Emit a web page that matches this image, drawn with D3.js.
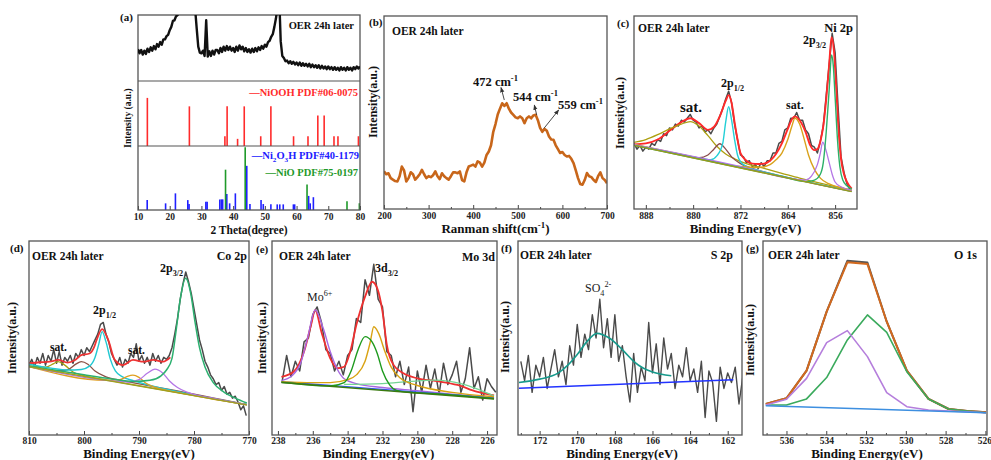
<!DOCTYPE html>
<html>
<head>
<meta charset="utf-8">
<script src="https://cdn.jsdelivr.net/npm/d3@7"></script>
<style>body{margin:0;background:#fff}svg{display:block}</style>
</head>
<body>
<script>
var FONT = "'Liberation Serif','Times New Roman',serif";

// ---------- (a) XRD, 2-theta from 10 step 0.5, % of top strip ----------
var xrdStart = 10, xrdStep = 0.5;
var xrdCounts = [
  48,42,47,40,46,41,49,44,51,46,
  53,48,56,52,59,55,63,63,68,70,
  77,82,91,92,98,100,106,115,125,130,
  130,130,130,130,130,125,110,80,52,43,
  42,46,38,92,37,45,38,46,40,47,
  47,42,50,44,52,46,53,47,52,46,
  50,44,52,46,54,48,52,45,50,44,
  48,43,49,44,50,45,51,47,53,49,
  55,52,59,61,67,71,82,95,112,130,
  60,38,35,30,31,27,30,26,29,25,
  28,24,28,23,27,23,26,22,26,21,
  25,21,24,20,24,19,23,19,22,18,
  22,18,21,17,21,17,20,16,21,17,
  20,16,21,17,20,16,21,18,22,19,
  22
];
// reference sticks [2theta, % of strip]
var nioohSticks = [[12.95,74],[26.2,61],[37.4,15],[38.1,61],[41.4,11],[43.5,61],[48.7,15],[51.9,61],
  [59.05,15],[63.6,15],[66.7,47],[68.7,47],[71.8,15],[73.05,15],[79.5,15]];
var ni2o3hSticks = [[12.9,15.5],[18.7,10.4],[21.8,26],[25.7,15.5],[26.1,9.3],[31.4,13],[31.8,13],[35.8,16.6],
  [36.3,16.6],[36.7,16.6],[38.0,25],[38.9,10.4],[40.7,26],[44.3,69],[45.3,9.3],[48.8,15.5],[49.5,9.3],
  [51.9,8.8],[53.9,8.8],[54.7,8.8],[55.8,8.8],[59.0,8.8],[59.4,8.8],[63.8,22],[64.3,10.4],[65.3,20]];
var nioSticks = [[37.6,63],[43.8,98],[63.3,40],[75.9,13.5],[79.8,10.4]];
var xrdTicks = [10,20,30,40,50,60,70,80];

// ---------- (b) Raman, from 200 step 5 cm-1 ----------
var ramanStart = 200, ramanStep = 5;
var ramanCounts = [
  19.5,18,18.5,16,15.2,14.5,14.3,17,22,20,
  14.3,16,19,18,15.2,16.5,18,20.3,18,16,
  17,16.5,17.5,19.5,17,15.5,18.5,17,16,15.2,
  17,19,19,18.5,19.5,15,14.3,19,22,22.5,
  23,22,24.7,24,22,24,28,29.8,33,40,
  44,49,52,54.8,53.4,54.8,52,50,48.8,47.5,
  47,48,47,44.5,47,48,47,48.5,48.8,46,
  42,40,41.5,40.5,37.6,36,35.9,33,31,29,
  29.5,28,27.2,27.5,26,23.8,20,16,13,12.6,
  15,18.6,17,16.5,15,14,17,19,16,15,
  13.4
];
var ramanTicks = [200,300,400,500,600,700];
var ramanMinor = [250,350,450,550,650];

// ---------- (c) Ni 2p ----------
var niRawStart = 890, niRawStep = -0.5;
var niRaw = [
  34,31,33,30,32,31,34,33,36,35,
  39,38,42,41,44,43,46,45,47,49,
  46,45,42,43,40,41,39,42,44,48,
  52,57,61,55,44,36,28,27,24,25,
  22,23,21,24,22,25,25,29,29,34,
  35,41,42,47,47,50,46,46,41,39,
  33,32,29,35,43,59,75,91,81,53,
  27,19,13,10
];
var niEnv = [[890,33.5],[888,34],[886,36],[884,40.5],[882,45],[880.5,47],[879,44.5],[877.5,41],[876.5,42.5],
  [875.5,48],[874.5,56],[874,59],[873.5,55],[873,45],[872.5,36],[872,29],[871,25],[870,23.5],[869,23.3],
  [868,23.5],[867,25],[866,28.5],[865,34],[864,41.5],[863.3,46.5],[862.8,48],[862,46],[861,40],[860.2,33],
  [859.5,30.5],[859,31],[858.5,35],[858,43],[857.5,57],[857,75],[856.6,89],[856.2,82],[855.8,62],[855.4,40],
  [855,26],[854.5,18],[854,14],[853.2,10.5]];
var niSatHigh = [[890,34.5],[888,36],[886,38.5],[884,41.5],[882,44],[880.5,45.3],[879,43],[877.5,38],[876,32.5],
  [874.5,28.5],[873,26],[871,23.5],[868,21],[865,18.5],[862,16],[858,13],[853.2,9.8]];
var niShoulder = [[890,33.2],[882,28.2],[879,26.6],[877.5,28],[876.5,31],[875.5,33.8],[874.5,31],[873.5,27],
  [872,23.5],[870,21],[865,17],[853.2,9.1]];
var ni2p12 = [[890,33.3],[880,27],[877,25.5],[876,27.5],[875,34],[874.5,45],[874,53],[873.5,46],[873,36],
  [872.5,28],[872,24.5],[871,22],[869,20],[865,17],[853.2,9.1]];
var niSatLow = [[890,33.5],[880,27],[872,22],[869,21.5],[867,23],[866,25.5],[865,29],[864,36],[863.3,43],
  [862.8,47],[862,44],[861.3,37],[860.5,28],[859.5,20.5],[858.5,16],[857,13],[855,11],[853.2,9.5]];
var ni3plus = [[890,33.3],[870,20.5],[864,16],[861,15],[860,17],[859,23],[858.5,29],[858.1,34.7],[857.6,31],
  [857,24],[856.5,18],[856,14],[855,11.5],[853.2,9.6]];
var ni2p32 = [[890,33],[865,16.8],[861,14.2],[859.5,15],[858.5,18],[858,24],[857.5,40],[857,62],[856.6,79.8],
  [856.3,74],[856,58],[855.6,36],[855.2,22],[854.7,15],[854,12],[853.2,10.3]];
var niBg = [[890,33],[853.2,9]];
var niTicks = [888,880,872,864,856];
var niMinor = [884,876,868,860];

// ---------- (d) Co 2p ----------
var coRawStart = 810, coRawStep = -0.5;
var coRaw = [
  36,39,35,40,37,42,36,41,38,44,
  37,43,36,40,38,41,37,42,40,44,
  41,45,43,46,49,52,57,58,52,48,
  42,39,36,40,35,39,37,42,40,47,
  38,41,37,40,36,42,38,41,37,40,
  39,41,45,52,60,70,78,84,79,73,
  65,57,49,44,38,35,31,29,26,27,
  23,25,21,22,19,20,17,13,15,10
];
var coEnv = [[810,37],[808,37.5],[806.2,37.8],[804.7,38.7],[803,37.3],[801.7,38.5],[800.5,41.2],[799,42],
  [798.2,45],[797.7,49],[796.7,54.6],[795.6,49],[794.4,38.7],[792.9,36],[791.1,38.7],[789.2,37.8],
  [787.4,38.7],[785.6,37.8],[784.3,40]];
var coSatHigh = [[810,35.6],[807,35],[805.5,36.8],[804.7,37.8],[803.5,36],[802,32.5],[800,30.6],[795,27.9],
  [785,22.9],[770.4,15.6]];
var co2p12 = [[810,36.5],[806,34.5],[803,33.5],[800.5,33.8],[799,35.5],[798,40],[797.3,47],[796.7,53.3],
  [796,48],[795.2,39],[794.3,33],[793,30],[791,28],[788,25.5],[784,23],[780,20.7],[770.4,15.7]];
var coShoulder = [[810,35.4],[805,33],[803,33.6],[801.5,36.5],[800.5,37.8],[799.3,36.5],[798,33],[796,30],
  [793,28],[789,25.8],[784,23.2],[770.4,15.6]];
var coSatMid = [[810,35.3],[796,28.2],[793.5,28.5],[792.3,30],[791.1,30.9],[790,29.7],[788.8,26.8],[787,24.5],
  [783,22],[770.4,15.6]];
var coSatLow = [[810,35.3],[795,27.9],[792,27.3],[790,28.5],[788.5,31.8],[787.1,34],[785.7,32],[784.5,28],
  [783,24.5],[781,21.8],[776,18.6],[770.4,15.7]];
var co2p32 = [[810,35.6],[800,31],[795,28.9],[791,27.6],[788,28.2],[786,30.5],[785,33.5],[784,39.5],[783.2,55],
  [782.5,70],[781.5,80.8],[780.6,73],[779.8,58],[779,45],[778,35],[776.5,27],[774.5,22],[772.5,19],[770.4,16.5]];
var coBg = [[810,35.2],[770.4,15.5]];
var coTicks = [810,800,790,780,770];
var coMinor = [805,795,785,775];

// ---------- (e) Mo 3d ----------
var moRawStart = 237.75, moRawStep = -0.25;
var moRaw = [
  28,41,30,38,33,48,50,62,66,
  58,44,42,33,38,31,41,44,60,58,
  80,72,88,70,66,43,41,30,38,26,
  35,12,33,22,36,24,34,21,37,26,
  31,38,22,29,45,24,30,18,29,25,
  22
];
var moEnv = [[237.8,30],[237.1,32.6],[236.5,43],[236.1,56.7],[235.86,64.4],[235.5,53],[235,39.5],[234.6,34.4],
  [234.2,35.2],[233.85,43],[233.5,56.7],[233,71.3],[232.6,79],[232.3,75.6],[232,63.6],[231.75,46.4],
  [231.36,36],[230.8,31.8],[230,29.2],[228.9,27.8],[227.7,25.8],[226.6,22.3],[225.6,20.4]];
var mo6plus = [[237.8,28],[237.2,30.5],[236.7,37],[236.3,50],[235.86,64.4],[235.4,55],[235,43],[234.6,34],
  [234.2,29],[233.5,26.5],[232,24.5],[230,22.8],[228,21],[225.6,19.2]];
var moGold = [[237.8,27.5],[236,27],[235,27],[234,28.5],[233.5,31],[233,38],[232.7,48],[232.5,55.8],
  [232.2,52],[231.9,44],[231.5,35],[231,29.5],[230,25.5],[228,22],[225.6,19.7]];
var moGreen = [[237.8,27.2],[235,25.3],[234.2,27],[233.8,33],[233.4,44],[233.0,50.7],[232.6,48],[232.3,42],
  [232,33],[231.6,26],[231.2,23],[230.5,22],[229,21.3],[225.6,18.8]];
var moBroad = [[234.2,26.1],[232,26.5],[230.5,27.5],[229,28.3],[227.5,26.5],[226.5,23.5],[225.6,20]];
var moBlue = [[237.8,27.5],[235,25.6],[232,23.5],[229,21.4],[225.6,19]];
var moBg = [[237.8,27.1],[225.6,18.6]];
var moTicks = [238,236,234,232,230,228,226];
var moMinor = [237,235,233,231,229,227];

// ---------- (f) S 2p ----------
var sRawStart = 173, sRawStep = -0.2;
var sRaw = [
  38,28,41,22,36,30,40,24,34,44,
  30,38,26,46,36,57,40,52,44,62,
  50,70,45,60,40,62,38,46,30,17,
  42,22,35,28,58,32,47,26,50,34,
  42,24,36,30,45,28,34,22,38,9,
  33,27,7,35,24,32,27,35,16,30
];
var sSulfate = [[173.1,27.1],[172,28.8],[171,32],[170.5,36],[170,41.5],[169.5,48],[168.95,52.4],[168.3,50],
  [167.5,43],[167,38],[166.5,34.5],[166,32.5],[165,30.5]];
var sBg = [[173.1,24.1],[161.7,28.5]];
var sTicks = [172,170,168,166,164,162];
var sMinor = [173,171,169,167,165,163];

// ---------- (g) O 1s ----------
var oBE = [537.04,536,534.99,533.98,532.94,531.93,530.96,529.95,528.86,527.85,526.92,525.97];
var oRaw = [16,18.9,33.2,63.6,89.8,88.9,58.4,33.2,18.6,13.4,12.4,11.7];
var oEnv = [16,18.9,33.2,63.6,89,88.1,58.4,33.2,18.6,13.4,12.4,11.7];
var oLattice = [15.5,15.5,18.6,29.6,49,61.9,52.9,32.6,18.6,13.4,12.4,11.5];
var oHydroxyl = [15.5,18.4,29.2,47.6,53.8,40.4,21.8,14.6,12.9,12.4,12,11.5];
var oBg = [[537.04,15.1],[525.97,11.5]];
var oTicks = [536,534,532,530,528,526];
var oMinor = [537,535,533,531,529,527];

// ---------------------------------------------------------------
var svg = d3.select("body").append("svg").attr("width", 991).attr("height", 460);
var defs = svg.append("defs");
defs.append("marker").attr("id", "arrow").attr("viewBox", "0 0 10 10")
    .attr("refX", 9).attr("refY", 5).attr("markerWidth", 6).attr("markerHeight", 6)
    .attr("orient", "auto")
  .append("path").attr("d", "M0,1L10,5L0,9z").attr("fill", "#333");

function spectrum(start, step, vals) {
  return vals.map(function (v, i) { return [start + i * step, v]; });
}

function rich(sel, x, y, parts, size, color, anchor, weight) {
  var t = sel.append("text").attr("x", x).attr("y", y)
      .attr("font-family", FONT).attr("font-size", size)
      .attr("font-weight", weight || "bold").attr("fill", color || "#111")
      .attr("text-anchor", anchor || "start");
  var cur = 0;
  parts.forEach(function (p) {
    var s = p[1] === "sub" ? size * 0.3 : (p[1] === "sup" ? -size * 0.4 : 0);
    t.append("tspan").attr("dy", s - cur).attr("font-size", p[1] ? size * 0.68 : size).text(p[0]);
    cur = s;
  });
  return t;
}

function panel(p) {
  var x = d3.scaleLinear().domain(p.xd).range([p.l, p.r]);
  var y = d3.scaleLinear().domain([0, 100]).range([p.b, p.t]);
  var g = svg.append("g");
  defs.append("clipPath").attr("id", "clip-" + p.id).append("rect")
      .attr("x", p.l).attr("y", p.t).attr("width", p.r - p.l).attr("height", p.b - p.t);
  var plot = g.append("g").attr("clip-path", "url(#clip-" + p.id + ")");

  var bottomRow = p.b > 300;
  var ax = g.append("g").attr("transform", "translate(0," + p.b + ")");
  ax.call(d3.axisBottom(x).tickValues(p.ticks).tickSize(-4).tickPadding(bottomRow ? 2 : 3)
      .tickFormat(d3.format("d")));
  if (p.minor) {
    ax.append("g").call(d3.axisBottom(x).tickValues(p.minor).tickSize(-2).tickFormat(""));
  }
  ax.selectAll(".domain").remove();
  ax.selectAll("line").attr("stroke", "#444");
  ax.selectAll("text").attr("font-family", FONT).attr("font-size", 9.5)
      .attr("font-weight", "bold").attr("fill", "#222");

  g.append("rect").attr("x", p.l).attr("y", p.t).attr("width", p.r - p.l).attr("height", p.b - p.t)
      .attr("fill", "none").attr("stroke", "#555").attr("stroke-width", 1.3);

  // axis titles
  rich(g, (p.l + p.r) / 2 + (p.titleDx || 0), p.b + (bottomRow ? 22.5 : 24), p.title, p.titleSize || 13, "#111", "middle");
  rich(g, 0, 0, [[p.ylabel || "Intensity(a.u.)"]], p.ySize || 12, "#111", "middle")
      .attr("transform", "translate(" + p.yx + "," + p.yy + ") rotate(-90)");
  rich(g, p.letter[1], p.letter[2], [[p.letter[0]]], 11, "#111");

  function draw(data, color, w, smooth) {
    var line = d3.line().x(function (d) { return x(d[0]); }).y(function (d) { return y(d[1]); });
    if (smooth) line.curve(d3.curveMonotoneX);
    plot.append("path").datum(data).attr("d", line).attr("fill", "none")
        .attr("stroke", color).attr("stroke-width", w).attr("stroke-linejoin", "round");
  }
  return { x: x, y: y, g: g, plot: plot, ax: ax, draw: draw };
}

// ---------- (a) ----------
var pa = panel({ id: "a", l: 138, r: 360, t: 15, b: 210, xd: [10, 80], ticks: xrdTicks,
  title: [["2 Theta(degree)"]], titleSize: 11.5, ylabel: "Intensity (a.u.)", ySize: 9.5,
  yx: 131, yy: 118, letter: ["(a)", 120, 21] });
var yTop = d3.scaleLinear().domain([0, 100]).range([81, 15]);
var yMid = d3.scaleLinear().domain([0, 100]).range([146, 81]);
var yBot = d3.scaleLinear().domain([0, 100]).range([210, 146]);
[81, 146].forEach(function (yy) {
  pa.g.append("line").attr("x1", 138).attr("x2", 360).attr("y1", yy).attr("y2", yy)
      .attr("stroke", "#555").attr("stroke-width", 1.2);
});
var xrdLine = d3.line().x(function (d) { return pa.x(d[0]); }).y(function (d) { return yTop(d[1]); });
defs.append("clipPath").attr("id", "clip-atop").append("rect")
    .attr("x", 138).attr("y", 15).attr("width", 222).attr("height", 66);
svg.append("path").datum(spectrum(xrdStart, xrdStep, xrdCounts)).attr("d", xrdLine)
    .attr("clip-path", "url(#clip-atop)").attr("fill", "none").attr("stroke", "#111")
    .attr("stroke-width", 2.4).attr("stroke-linejoin", "round");
function sticks(data, ys, color) {
  pa.plot.append("g").selectAll("line").data(data).join("line")
      .attr("x1", function (d) { return pa.x(d[0]); }).attr("x2", function (d) { return pa.x(d[0]); })
      .attr("y1", ys(0)).attr("y2", function (d) { return ys(d[1]); })
      .attr("stroke", color).attr("stroke-width", 1.6);
}
sticks(nioohSticks, yMid, "#ff2b2b");
sticks(ni2o3hSticks, yBot, "#2020ff");
sticks(nioSticks, yBot, "#1f9a2a");
rich(pa.g, 354, 29, [["OER 24h later"]], 10.5, "#111", "end");
rich(pa.g, 358, 96, [["\u2014NiOOH PDF#06-0075"]], 10.5, "#ff2b2b", "end");
rich(pa.g, 359, 159, [["\u2014Ni"], ["2", "sub"], ["O"], ["3", "sub"], ["H PDF#40-1179"]], 10.5, "#2020ff", "end");
rich(pa.g, 358, 176, [["\u2014NiO PDF#75-0197"]], 10.5, "#1f9a2a", "end");

// ---------- (b) ----------
var pb = panel({ id: "b", l: 384, r: 607, t: 16, b: 209, xd: [200, 700], ticks: ramanTicks, minor: ramanMinor,
  title: [["Ranman shift(cm"], ["-1", "sup"], [")"]], yx: 377, yy: 102, letter: ["(b)", 369, 26] });
pb.draw(spectrum(ramanStart, ramanStep, ramanCounts), "#c8661a", 2.6, false);
rich(pb.g, 392, 35, [["OER 24h later"]], 11.5, "#111");
[[[469.7, 56.5], [462.3, 63]], [[542.4, 48.7], [537, 53.9]], [[558.7, 41.8], [591.7, 51.3]]].forEach(function (a) {
  pb.g.append("line").attr("x1", pb.x(a[0][0])).attr("y1", pb.y(a[0][1]))
      .attr("x2", pb.x(a[1][0])).attr("y2", pb.y(a[1][1]))
      .attr("stroke", "#333").attr("stroke-width", 0.9).attr("marker-end", "url(#arrow)");
});
rich(pb.g, 473, 86, [["472 cm"], ["-1", "sup"]], 12.5, "#111");
rich(pb.g, 513, 101, [["544 cm"], ["-1", "sup"]], 12.5, "#111");
rich(pb.g, 558, 109, [["559 cm"], ["-1", "sup"]], 12.5, "#111");

// ---------- (c) ----------
var pc = panel({ id: "c", l: 634, r: 857, t: 16, b: 209, xd: [890, 852.3], ticks: niTicks, minor: niMinor,
  title: [["Binding Energy(eV)"]], yx: 624, yy: 113, letter: ["(c)", 617, 27] });
pc.draw(spectrum(niRawStart, niRawStep, niRaw), "#4a4a4a", 1.5, false);
pc.draw(niEnv, "#ff2a2a", 1.9, true);
pc.draw(niSatHigh, "#ada010", 1.3, true);
pc.draw(niShoulder, "#8b4c4c", 1.3, true);
pc.draw(ni2p12, "#22cfd6", 1.4, true);
pc.draw(niSatLow, "#d9a21c", 1.4, true);
pc.draw(ni3plus, "#b476e6", 1.3, true);
pc.draw(ni2p32, "#2cb068", 1.4, true);
pc.draw(niBg, "#9c9a1c", 1.4, false);
rich(pc.g, 638, 32, [["OER 24h later"]], 11.5, "#111");
rich(pc.g, 853, 32, [["Ni 2p"]], 12.5, "#111", "end");
rich(pc.g, 803, 44, [["2p"], ["3/2", "sub"]], 12, "#111");
rich(pc.g, 721, 87, [["2p"], ["1/2", "sub"]], 12, "#111");
rich(pc.g, 680, 112, [["sat."]], 15, "#111");
rich(pc.g, 786, 109, [["sat."]], 12, "#111");

// ---------- (d) ----------
var pd = panel({ id: "d", l: 29, r: 249, t: 241, b: 435, xd: [810, 770], ticks: coTicks, minor: coMinor,
  title: [["Binding Energy(eV)"]], yx: 16, yy: 338, letter: ["(d)", 10, 252] });
pd.draw(spectrum(coRawStart, coRawStep, coRaw), "#4a4a4a", 1.5, false);
pd.draw(coEnv, "#ee3333", 1.8, true);
pd.draw(coSatHigh, "#a8a010", 1.3, true);
pd.draw(coShoulder, "#8b5044", 1.3, true);
pd.draw(co2p12, "#22c8d2", 1.4, true);
pd.draw(coSatMid, "#e0a020", 1.3, true);
pd.draw(coSatLow, "#b476e6", 1.3, true);
pd.draw(co2p32, "#2cb070", 1.5, true);
pd.draw(coBg, "#a0a020", 1.4, false);
rich(pd.g, 32, 260, [["OER 24h later"]], 11.5, "#111");
rich(pd.g, 247, 260, [["Co 2p"]], 12, "#111", "end");
rich(pd.g, 160, 272, [["2p"], ["3/2", "sub"]], 12, "#111");
rich(pd.g, 93, 314, [["2p"], ["1/2", "sub"]], 12, "#111");
rich(pd.g, 50, 351, [["sat."]], 11.5, "#111");
rich(pd.g, 128, 354, [["sat."]], 11.5, "#111");

// ---------- (e) ----------
var pe = panel({ id: "e", l: 272, r: 497, t: 241, b: 435, xd: [238.34, 225.43], ticks: moTicks, minor: moMinor,
  title: [["Binding Energy(eV)"]], titleDx: -6, yx: 266, yy: 338, letter: ["(e)", 256, 253] });
pe.draw(spectrum(moRawStart, moRawStep, moRaw), "#4a4a4a", 1.5, false);
pe.draw(moEnv, "#ee3030", 1.8, true);
pe.draw(mo6plus, "#a868e0", 1.4, true);
pe.draw(moBroad, "#74d494", 1.3, true);
pe.draw(moBlue, "#3556ff", 1.3, false);
pe.draw(moGold, "#d9a212", 1.4, true);
pe.draw(moGreen, "#1e9a1e", 1.4, true);
pe.draw(moBg, "#3a7a10", 1.5, false);
rich(pe.g, 279, 260, [["OER 24h later"]], 11.5, "#111");
rich(pe.g, 495, 261, [["Mo 3d"]], 12, "#111", "end");
rich(pe.g, 375, 272, [["3d"], ["3/2", "sub"]], 12, "#111");
rich(pe.g, 307, 301, [["Mo"], ["6+", "sup"]], 12, "#222", "start", "normal");

// ---------- (f) ----------
var pf = panel({ id: "f", l: 518, r: 742, t: 241, b: 435, xd: [173.15, 161.24], ticks: sTicks, minor: sMinor,
  title: [["Binding Energy(eV)"]], titleDx: -8, yx: 509, yy: 337, letter: ["(f)", 501, 252] });
pf.draw(spectrum(sRawStart, sRawStep, sRaw), "#4a4a4a", 1.4, false);
pf.draw(sSulfate, "#179a8c", 1.6, true);
pf.draw(sBg, "#2233ff", 1.6, false);
rich(pf.g, 520, 259, [["OER 24h later"]], 11.5, "#111");
rich(pf.g, 733, 259, [["S 2p"]], 12, "#111", "end");
rich(pf.g, 585, 292, [["SO"], ["4", "sub"], ["2-", "sup"]], 12, "#222", "start", "normal");

// ---------- (g) ----------
var pg = panel({ id: "g", l: 763, r: 987, t: 241, b: 435, xd: [537.18, 525.92], ticks: oTicks, minor: oMinor,
  title: [["Binding Energy(eV)"]], titleDx: -8, yx: 754, yy: 340, letter: ["(g)", 746, 252] });
// keep the last tick label inside the picture
pg.ax.selectAll(".tick text").filter(function (d) { return d === 526; }).attr("text-anchor", "end").attr("dx", 6);
function pairs(vals) { return oBE.map(function (b, i) { return [b, vals[i]]; }); }
pg.draw(pairs(oRaw), "#555", 2, false);
pg.draw(pairs(oEnv), "#d2691e", 2, false);
pg.draw(pairs(oLattice), "#3aaa5c", 1.6, false);
pg.draw(pairs(oHydroxyl), "#b57edc", 1.6, false);
pg.draw(oBg, "#3d8fe0", 1.6, false);
rich(pg.g, 768, 259, [["OER 24h later"]], 11.5, "#111");
rich(pg.g, 977, 259, [["O 1s"]], 12, "#111", "end");
</script>
</body>
</html>
